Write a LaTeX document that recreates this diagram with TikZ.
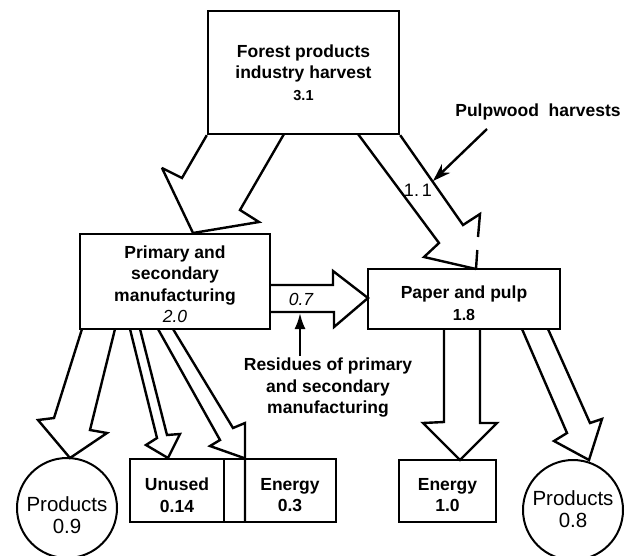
\documentclass[tikz,border=0pt]{standalone}
\usepackage{fontspec}
\setmainfont{Liberation Sans}
\usetikzlibrary{arrows.meta}
\newcommand\dgbold{\fontsize{17.5}{21.5}\selectfont\bfseries}
\newcommand\dgreg{\fontsize{20.5}{22}\selectfont}
\begin{document}
\begin{tikzpicture}[x=1pt,y=-1pt,
  box/.style={draw, line width=2.4pt, inner sep=0pt, align=center, font=\dgbold},
  lbl/.style={inner sep=0pt, align=center, font=\dgbold},
  circ/.style={draw, circle, line width=2pt, inner sep=0pt, minimum size=100pt},
  reglbl/.style={inner sep=0pt, align=center, font=\dgreg},
  blk/.style={draw, line width=2.4pt, line join=miter, miter limit=3},
  ptr/.style={line width=2.4pt}]
\useasboundingbox (0,0) rectangle (634,555);
% boxes
\node[box, minimum width=191pt, minimum height=123pt] (harvest) at (303.5,72.5)
  {Forest products\\industry harvest\\{\fontsize{14.5}{17}\selectfont 3.1}};
\node[box, minimum width=190pt, minimum height=95pt] (primary) at (175,281.5) {};
\node[lbl] (primaryt) at (175,284) {Primary and\\secondary\\manufacturing\\{\mdseries\itshape 2.0}};
\node[box, minimum width=192pt, minimum height=60pt] (paper) at (464,299) {};
\node[lbl] (papert) at (464,303) {Paper and pulp\\{\fontsize{16}{19}\selectfont 1.8}};
\node[box, minimum width=206pt, minimum height=63pt] (lowbox) at (233,490.5) {};
\coordinate (divtop) at (224,459);
\coordinate (divbot) at (224,522);
\draw[line width=2.4pt] (divtop) -- (divbot);
\node[lbl] (unused) at (177,495) {Unused\\0.14};
\node[lbl] (energyA) at (290,495) {Energy\\0.3};
\node[box, minimum width=97pt, minimum height=62pt] (energyB) at (447.5,491) {};
\node[lbl] (energyBt) at (447.5,495) {Energy\\1.0};
\node[circ] (prodA) at (67,508) {};
\node[reglbl] (prodAt) at (67,515) {Products\\0.9};
\node[circ] (prodB) at (573,510) {};
\node[reglbl] (prodBt) at (573,509) {Products\\0.8};
% block arrows
\draw[blk] (harvest.south west) -- (182,178) -- (162,168) -- (193,233) -- (259,222) -- (240,210) -- (284,134);
\draw[blk] (358,134) -- (439,243) -- (424,257) -- (476,269);
\draw[blk] (harvest.south east) -- (463,225) -- (480,214) -- (478,237);
\draw[blk] (477.3,250) -- (476,269);
\draw[blk] (270,285) -- (333,285) -- (333,271) -- (368,298) -- (334,327) -- (334,312) -- (270,312);
\draw[blk] (82,329) -- (54,418) -- (38,420) -- (70,458) -- (107,433) -- (90,430) -- (115,329);
\draw[blk] (130,329) -- (157,438) -- (146,445) -- (168,458) -- (180,434) -- (167,435) -- (140,329);
\draw[blk] (158,329) -- (220,440) -- (210,446) -- (244,458);
\draw[blk] (173,329) -- (233,428) -- (245,423) -- (245,522);
\draw[blk] (444,329) -- (444,422) -- (423,423) -- (460,460) -- (497,423) -- (480,423) -- (480,329);
\draw[blk] (522,329) -- (567,433) -- (554,441) -- (589,460) -- (602,419) -- (590,423) -- (548,329);
% labels
\node[reglbl, font=\fontsize{18}{20}\selectfont] (v11) at (418,190) {1.\,1};
\node[lbl, font=\fontsize{17.5}{21}\selectfont\itshape] (v07) at (301,299) {0.7};
\node[lbl] (resid) at (328,388) {Residues of primary\\and secondary\\manufacturing};
\coordinate (residtail) at (300,356);
\coordinate (residtip) at (300,313);
\draw[ptr, -{Latex[length=16pt,width=11pt]}] (residtail) -- (residtip);
\node[lbl] (pulpw) at (538,112) {Pulpwood\ \ harvests};
\coordinate (pulptail) at (487,129);
\coordinate (pulptip) at (433,181);
\draw[ptr, -{Stealth[length=18pt,width=12pt]}] (pulptail) -- (pulptip);
\end{tikzpicture}
\end{document}
